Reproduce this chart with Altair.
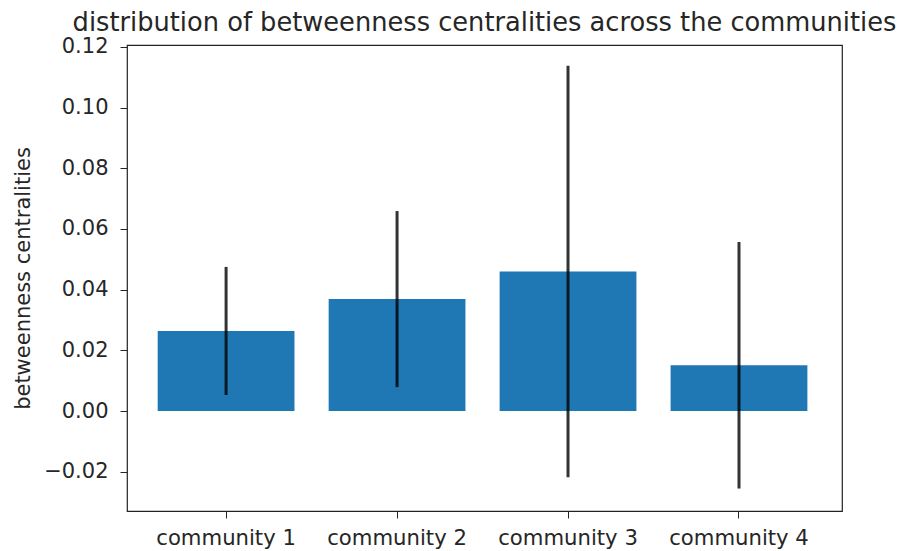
import altair as alt
import pandas as pd

# Mean betweenness centrality per community and the spread drawn as error bars
communities = ["community 1", "community 2", "community 3", "community 4"]
mean_centrality = [0.0264, 0.0369, 0.0460, 0.0151]
std_centrality = [0.0211, 0.0290, 0.0678, 0.0406]
y_ticks = [-0.02, 0.0, 0.02, 0.04, 0.06, 0.08, 0.10, 0.12]
chart_title = "distribution of betweenness centralities across the communities"

df = pd.DataFrame({
    "community": communities,
    "mean": mean_centrality,
    "std": std_centrality,
})
df["lo"] = df["mean"] - df["std"]
df["hi"] = df["mean"] + df["std"]

FONT = "DejaVu Sans"
TEXT = "#262626"
W, H = 715, 466

x_scale = alt.Scale(paddingInner=0.2, paddingOuter=0.191, align=0.47)

x_enc = alt.X(
    "community:N",
    sort=communities,
    scale=x_scale,
    axis=alt.Axis(
        title=None,
        labelAngle=0,
        labelFont=FONT,
        labelFontSize=21.2,
        labelColor=TEXT,
        labelBaseline="alphabetic",
        labelPadding=26,
        tickSize=7,
        tickColor=TEXT,
        tickWidth=1,
        domain=False,
        grid=False,
    ),
)

y_scale = alt.Scale(domain=[-0.0329, 0.1206], nice=False, zero=False)
y_axis = alt.Axis(
    title="betweenness centralities",
    titleFont=FONT,
    titleFontSize=21,
    titleFontWeight="normal",
    titleColor=TEXT,
    titleAngle=270,
    titleAlign="center",
    titleBaseline="alphabetic",
    titleX=-98,
    titleY=H / 2,
    values=y_ticks,
    labelExpr="replace(format(datum.value, '.2f'), '-', '\u2212')",
    labelFont=FONT,
    labelFontSize=21,
    labelColor=TEXT,
    labelPadding=12,
    tickSize=7,
    tickColor=TEXT,
    tickWidth=1,
    domain=False,
    grid=False,
)

bars = alt.Chart(df).mark_bar(color="#1f77b4").encode(
    x=x_enc,
    y=alt.Y("mean:Q", scale=y_scale, axis=y_axis),
    y2=alt.datum(0),
)

errors = alt.Chart(df).mark_rule(color="#000000", opacity=0.8, strokeWidth=3).encode(
    x=alt.X("community:N", sort=communities, scale=x_scale),
    y=alt.Y("lo:Q", scale=y_scale),
    y2="hi:Q",
)

# Heading placed above the plot frame, centred on it
heading = alt.Chart(pd.DataFrame({"t": [chart_title]})).mark_text(
    font=FONT,
    fontSize=25.7,
    color=TEXT,
    align="center",
    baseline="alphabetic",
).encode(
    text="t:N",
    x=alt.value(W / 2),
    y=alt.value(-14),
)

chart = (
    alt.layer(bars, errors, heading)
    .properties(
        width=W,
        height=H,
        autosize=alt.AutoSizeParams(type="none"),
        padding={"left": 127, "top": 45, "right": 59, "bottom": 40},
    )
    .configure_view(stroke="#222222", strokeWidth=1.2)
)

chart.save("out.html", embed_options={"renderer": "svg", "actions": False})
